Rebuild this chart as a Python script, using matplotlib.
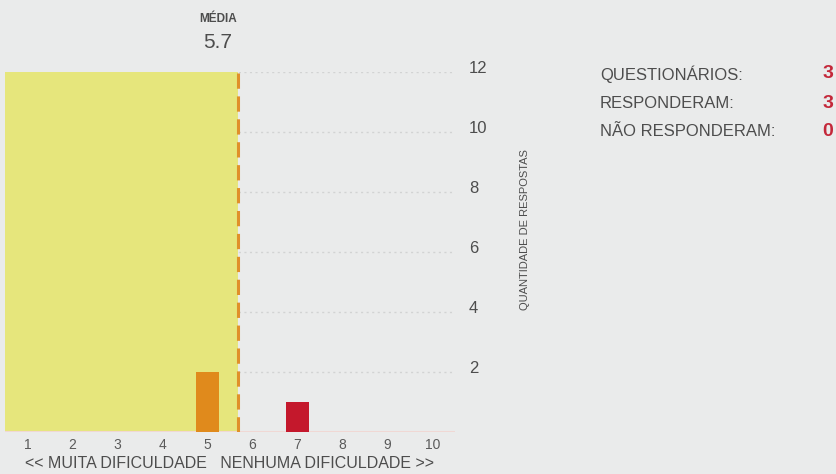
import matplotlib
matplotlib.use("Agg")
import matplotlib.pyplot as plt
import matplotlib.transforms as mtransforms
import numpy as np

plt.rcParams['font.family'] = ['Liberation Sans', 'DejaVu Sans']

# dados
notas = [1, 2, 3, 4, 5, 6, 7, 8, 9, 10]
respostas = [0, 0, 0, 0, 2, 0, 1, 0, 0, 0]
cores = ['#e08a1c', '#e08a1c', '#e08a1c', '#e08a1c', '#e08a1c',
         '#c4182c', '#c4182c', '#c4182c', '#c4182c', '#c4182c']
y_ticks = [2, 4, 6, 8, 10, 12]
resumo_labels = ['QUESTIONÁRIOS:', 'RESPONDERAM:', 'NÃO RESPONDERAM:']
resumo_valores = [3, 3, 0]

media = np.sum(np.array(notas) * np.array(respostas)) / np.sum(respostas)

bg = '#eaebeb'
txt = '#4d4d4d'
fig = plt.figure(figsize=(8.37, 4.74), dpi=100, facecolor=bg)
ax = fig.add_axes([5 / 837, 1 - 432 / 474, 450 / 837, 360 / 474])
ax.set_facecolor(bg)
ax.set_xlim(0.5, 10.5)
ax.set_ylim(0, 12)

# grade pontilhada
for v in y_ticks:
    ax.axhline(v, color='#d2d3d3', lw=1, ls=(0, (1.5, 2.5)), zorder=0)

# area ate a media
ax.axvspan(0.5, media, color='#e6e67c', zorder=1, lw=0)
ax.axvline(media, color='#e0902a', lw=2.2, ls=(0, (5, 2.5)), zorder=3)

ax.bar(notas, respostas, width=0.5, color=cores, zorder=2)
ax.axhline(0, color='#f0d8d4', lw=1.5, zorder=1)

for s in ax.spines.values():
    s.set_visible(False)

ax.set_xticks(notas)
ax.set_xticklabels([str(n) for n in notas], fontsize=10, color='#5a5a5a')
ax.tick_params(axis='x', length=0, pad=4)
ax.yaxis.tick_right()
ax.set_yticks(y_ticks)
ax.set_yticklabels([str(v) for v in y_ticks], fontsize=12, color=txt)
ax.tick_params(axis='y', length=0, pad=10)
sobe = mtransforms.ScaledTranslation(0, 5 / 100, fig.dpi_scale_trans)
for lbl in ax.get_yticklabels():
    lbl.set_transform(lbl.get_transform() + sobe)

ax.set_xlabel('<< MUITA DIFICULDADE   NENHUMA DIFICULDADE >>',
              fontsize=11.5, color=txt, labelpad=3)

fig.text(525 / 837, 1 - 230 / 474, 'QUANTIDADE DE RESPOSTAS', rotation=90,
         fontsize=8, color=txt, ha='center', va='center')

fig.text(218 / 837, 1 - 19 / 474, 'MÉDIA', fontsize=8.5, color=txt,
         weight='bold', ha='center', va='center')
fig.text(218 / 837, 1 - 43 / 474, f'{media:.1f}', fontsize=15, color=txt,
         ha='center', va='center')

for i, (lab, val) in enumerate(zip(resumo_labels, resumo_valores)):
    y = 1 - (74 + 29 * i) / 474
    fig.text(600 / 837, y, lab, fontsize=12, color=txt, ha='left', va='center')
    fig.text(833 / 837, y, str(val), fontsize=14, color='#c4283a', weight='bold',
             ha='right', va='center')

fig.savefig('out.png', dpi=100, facecolor=bg)
